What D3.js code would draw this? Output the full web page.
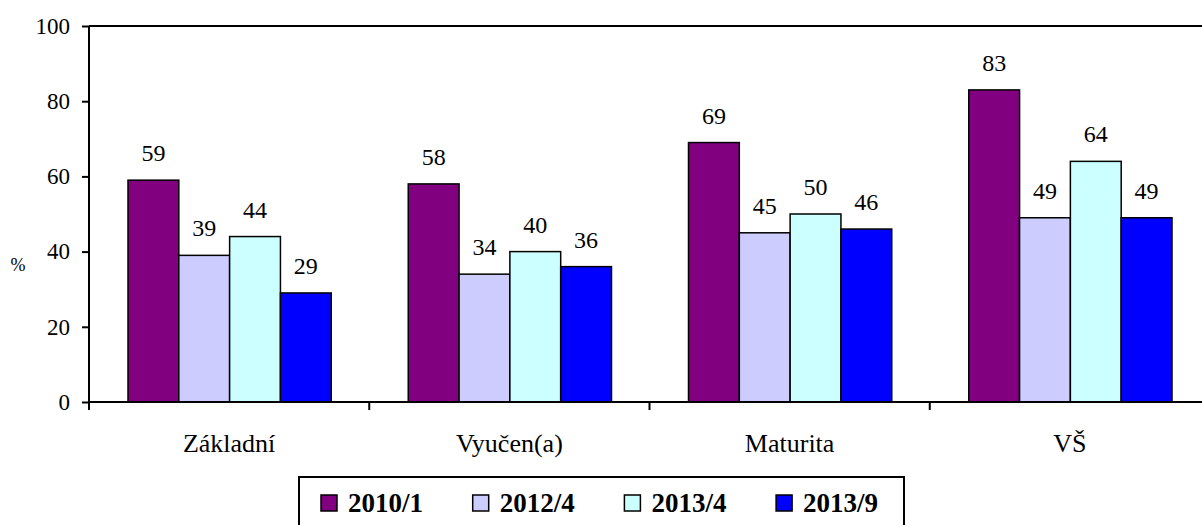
<!DOCTYPE html>
<html>
<head>
<meta charset="utf-8">
<script src="https://cdn.jsdelivr.net/npm/d3@7"></script>
<style>
  body { margin: 0; background: #fff; }
</style>
</head>
<body>
<svg id="canvas" width="1202" height="525"></svg>
<script>
const categories = ["Základní", "Vyučen(a)", "Maturita", "VŠ"];
const seriesNames = ["2010/1", "2012/4", "2013/4", "2013/9"];
const s2010_1 = [59, 58, 69, 83];
const s2012_4 = [39, 34, 45, 49];
const s2013_4 = [44, 40, 50, 64];
const s2013_9 = [29, 36, 46, 49];
const yTicks = [0, 20, 40, 60, 80, 100];
const colors = ["#800080", "#ccccff", "#ccffff", "#0000ff"];

const series = [s2010_1, s2012_4, s2013_4, s2013_9];
const serif = "Liberation Serif, Times New Roman, Times, Tinos, Nimbus Roman, FreeSerif, Noto Serif, DejaVu Serif, serif";

const margin = {top: 26, left: 89, bottom: 402, right: 1210};

const svg = d3.select("svg#canvas")
    .attr("font-family", serif);

const x = d3.scaleBand()
    .domain(categories)
    .range([margin.left, margin.right]);

const xSub = d3.scaleBand()
    .domain(seriesNames)
    .range([39, x.bandwidth() - 38]);

const y = d3.scaleLinear()
    .domain([0, 100])
    .range([margin.bottom, margin.top]);

const color = d3.scaleOrdinal(seriesNames, colors);

// top border of plot area
svg.append("line")
    .attr("x1", margin.left)
    .attr("x2", margin.right)
    .attr("y1", y(100))
    .attr("y2", y(100))
    .attr("stroke", "#000")
    .attr("stroke-width", 2);

// bars
const rows = categories.map((c, i) => seriesNames.map((s, j) => ({cat: c, key: s, value: series[j][i]})));

const group = svg.append("g")
  .selectAll("g")
  .data(rows)
  .join("g")
    .attr("transform", d => `translate(${x(d[0].cat)},0)`);

group.selectAll("rect")
  .data(d => d)
  .join("rect")
    .attr("x", d => xSub(d.key))
    .attr("y", d => y(d.value))
    .attr("width", xSub.bandwidth())
    .attr("height", d => y(0) - y(d.value))
    .attr("fill", d => color(d.key))
    .attr("stroke", "#000")
    .attr("stroke-width", 1.5);

group.selectAll("text")
  .data(d => d)
  .join("text")
    .attr("x", d => xSub(d.key) + xSub.bandwidth() / 2)
    .attr("y", d => y(d.value) - 19)
    .attr("text-anchor", "middle")
    .attr("font-size", 24)
    .text(d => d.value);

// y axis
const yAxis = svg.append("g")
    .attr("transform", `translate(${margin.left},0)`)
    .call(d3.axisLeft(y).tickValues(yTicks).tickSize(7).tickPadding(12))
    .attr("font-family", serif);
yAxis.select(".domain").attr("stroke-width", 2).attr("d", `M0,${y(100)}V${y(0) + 7}`);
yAxis.selectAll(".tick line").attr("stroke-width", 2);
yAxis.selectAll("text")
    .attr("font-size", 23)
    .attr("fill", "#000");

svg.append("text")
    .attr("x", 18)
    .attr("y", y(36))
    .attr("text-anchor", "middle")
    .attr("dominant-baseline", "middle")
    .attr("font-size", 18)
    .text("%");

// x axis
svg.append("line")
    .attr("x1", margin.left)
    .attr("x2", margin.right)
    .attr("y1", y(0))
    .attr("y2", y(0))
    .attr("stroke", "#000")
    .attr("stroke-width", 2);

svg.append("g")
  .selectAll("line")
  .data(categories)
  .join("line")
    .attr("x1", d => x(d))
    .attr("x2", d => x(d))
    .attr("y1", y(0))
    .attr("y2", y(0) + 8)
    .attr("stroke", "#000")
    .attr("stroke-width", 2);

svg.append("g")
  .selectAll("text")
  .data(categories)
  .join("text")
    .attr("x", d => x(d) + x.bandwidth() / 2)
    .attr("y", 452)
    .attr("text-anchor", "middle")
    .attr("font-size", 26)
    .text(d => d);

// legend
const legend = svg.append("g").attr("transform", "translate(299,477)");
legend.append("rect")
    .attr("width", 605)
    .attr("height", 70)
    .attr("fill", "#fff")
    .attr("stroke", "#000")
    .attr("stroke-width", 2);

const item = legend.selectAll("g")
  .data(seriesNames)
  .join("g")
    .attr("transform", (d, i) => `translate(${22 + i * 151.7},18)`);

item.append("rect")
    .attr("width", 16)
    .attr("height", 16)
    .attr("fill", d => color(d))
    .attr("stroke", "#000")
    .attr("stroke-width", 1.5);

item.append("text")
    .attr("x", 27)
    .attr("y", 17)
    .attr("font-size", 27)
    .attr("font-weight", "bold")
    .text(d => d);
</script>
</body>
</html>
